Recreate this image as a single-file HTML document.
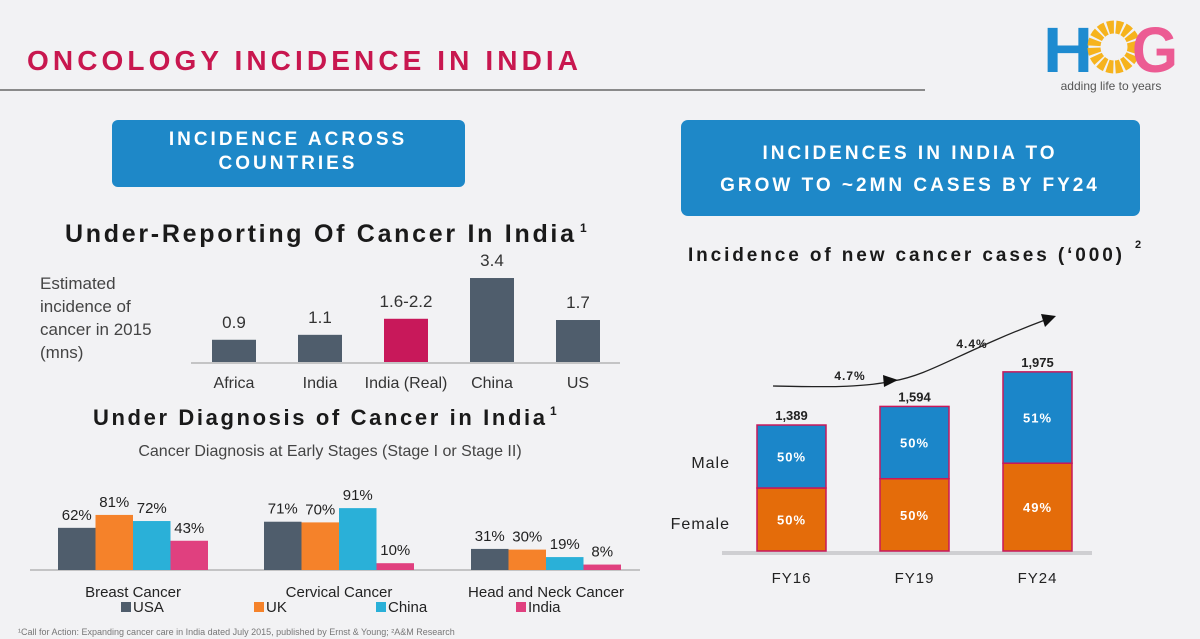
<!DOCTYPE html>
<html><head><meta charset="utf-8"><style>
body{margin:0;width:1200px;height:639px;overflow:hidden;background:#f2f2f4;font-family:"Liberation Sans",sans-serif}
svg{display:block}
text{font-family:"Liberation Sans",sans-serif}
</style></head><body>
<svg id="s" width="1200" height="639" viewBox="0 0 1200 639">
<rect x="0" y="0" width="1200" height="639" fill="#f2f2f4"/>
<text x="27" y="70" font-size="28" font-weight="bold" fill="#c8174f" letter-spacing="4" textLength="555" lengthAdjust="spacing">ONCOLOGY INCIDENCE IN INDIA</text>
<rect x="0" y="89" width="925" height="2" fill="#8a8a8a"/>
<g>
<text x="1043" y="72" font-size="64" font-weight="bold" fill="#1e8bd0" textLength="50" lengthAdjust="spacingAndGlyphs">H</text>
<circle cx="1114" cy="47" r="20" fill="none" stroke="#f6b31d" stroke-width="13" stroke-dasharray="6 2"/>
<text x="1132" y="72" font-size="64" font-weight="bold" fill="#ec5b93" textLength="46" lengthAdjust="spacingAndGlyphs">G</text>
<text x="1111" y="90" font-size="12" fill="#555" text-anchor="middle">adding life to years</text>
</g>
<g>
<rect x="112" y="120" width="353" height="67" rx="6" fill="#1e88c8"/>
<text x="288" y="145" font-size="19" font-weight="bold" fill="#fff" text-anchor="middle" letter-spacing="3">INCIDENCE ACROSS</text>
<text x="288" y="169" font-size="19" font-weight="bold" fill="#fff" text-anchor="middle" letter-spacing="3">COUNTRIES</text>
</g>
<g>
<rect x="681" y="120" width="459" height="96" rx="7" fill="#1e88c8"/>
<text x="910" y="159" font-size="19" font-weight="bold" fill="#fff" text-anchor="middle" letter-spacing="3">INCIDENCES IN INDIA TO</text>
<text x="910" y="191" font-size="19" font-weight="bold" fill="#fff" text-anchor="middle" letter-spacing="3">GROW TO ~2MN CASES BY FY24</text>
</g>
<text x="65" y="242" font-size="25" font-weight="bold" fill="#1a1a1a" letter-spacing="3" textLength="512" lengthAdjust="spacing">Under-Reporting Of Cancer In India</text>
<text x="580" y="232" font-size="12" font-weight="bold" fill="#1a1a1a">1</text>
<g font-size="17" fill="#444">
<text x="40" y="289">Estimated</text><text x="40" y="312">incidence of</text><text x="40" y="335">cancer in 2015</text><text x="40" y="358">(mns)</text>
</g>
<g id="c1"></g>
<text x="93" y="425" font-size="22" font-weight="bold" fill="#1a1a1a" letter-spacing="3" textLength="455" lengthAdjust="spacing">Under Diagnosis of Cancer in India</text>
<text x="550" y="415" font-size="12" font-weight="bold" fill="#1a1a1a">1</text>
<text x="330" y="456" font-size="16" fill="#444" text-anchor="middle">Cancer Diagnosis at Early Stages (Stage I or Stage II)</text>
<g id="c2"></g>
<text x="18" y="635" font-size="9" fill="#777">¹Call for Action: Expanding cancer care in India dated July 2015, published by Ernst &amp; Young; ²A&amp;M Research</text>
<text x="688" y="261" font-size="19" font-weight="bold" fill="#1a1a1a" letter-spacing="3" textLength="437" lengthAdjust="spacing">Incidence of new cancer cases (‘000)</text>
<text x="1135" y="248" font-size="11" font-weight="bold" fill="#1a1a1a">2</text>
<g id="c3"></g>
</svg>
<script>
const NS='http://www.w3.org/2000/svg';
function mk(p,t,a,txt){const e=document.createElementNS(NS,t);for(const k in a)e.setAttribute(k,a[k]);if(txt!==undefined)e.textContent=txt;p.appendChild(e);return e;}

// Chart 1
const c1Cats=['Africa','India','India (Real)','China','US'];
const c1Vals=[0.9,1.1,1.75,3.4,1.7];
const c1Labels=['0.9','1.1','1.6-2.2','3.4','1.7'];
// Chart 2
const c2Groups=['Breast Cancer','Cervical Cancer','Head and Neck Cancer'];
const c2Series=['USA','UK','China','India'];
const c2USA=[62,71,31];
const c2UK=[81,70,30];
const c2China=[72,91,19];
const c2India=[43,10,8];
// Chart 3
const c3Years=['FY16','FY19','FY24'];
const c3Totals=[1389,1594,1975];
const c3FemalePct=[50,50,49];
const c3MalePct=[50,50,51];
const c3Cagr=['4.7%','4.4%'];

(function(){
 const g=document.getElementById('c1');
 const base=362,step=86,bw=44,y=v=>base-v*24.7;
 mk(g,'line',{x1:191,x2:620,y1:base+1,y2:base+1,stroke:'#b5b5b5','stroke-width':1.5});
 c1Vals.forEach((v,i)=>{
  const cx=234+i*step;
  const r=mk(g,'rect',{x:cx-bw/2,y:y(v),width:bw,height:base-y(v),fill:i==2?'#c8185a':'#4f5d6c'});
  
  
  const t=mk(g,'text',{x:cx,y:y(v)-12,'font-size':17,fill:'#333','text-anchor':'middle'},c1Labels[i]);
  
  
  const l=mk(g,'text',{x:cx,y:388,'font-size':16,fill:'#333','text-anchor':'middle'},c1Cats[i]);
  
  
 });
})();

(function(){
 const g=document.getElementById('c2');
 const base=570,bw=37.5,k=0.68,cols=['#4f5d6c','#f5822a','#2ab0d8','#e0407f'];
 const starts=[58,264,471];
 const series=[c2USA,c2UK,c2China,c2India];
 mk(g,'line',{x1:30,x2:640,y1:base,y2:base,stroke:'#b5b5b5','stroke-width':1.5});
 c2Groups.forEach((grp,gi)=>{
  series.forEach((s,si)=>{
   const h=s[gi]*k,x=starts[gi]+si*bw;
   const r=mk(g,'rect',{x:x,y:base-h,width:bw,height:h,fill:cols[si]});
   
   
   const t=mk(g,'text',{x:x+bw/2,y:base-h-8,'font-size':15,fill:'#222','text-anchor':'middle'},s[gi]+'%');
   
   
  });
  const l=mk(g,'text',{x:starts[gi]+2*bw,y:597,'font-size':15,fill:'#222','text-anchor':'middle'},grp);
  
  
 });
 const lx=[121,254,376,516];
 c2Series.forEach((s,i)=>{
  const e=mk(g,'g',{});
  
  
  mk(e,'rect',{x:lx[i],y:602,width:10,height:10,fill:cols[i]});
  mk(e,'text',{x:lx[i]+12,y:612,'font-size':15,fill:'#222'},s);
 });
})();

(function(){
 const g=document.getElementById('c3');
 const base=551,k=0.0907,bw=69,xs=[757,880,1003];
 mk(g,'line',{x1:722,x2:1092,y1:base+2,y2:base+2,stroke:'#cfcfd2','stroke-width':4});
 c3Totals.forEach((tot,i)=>{
  const H=tot*k,hf=H*c3FemalePct[i]/100,x=xs[i];
  const f=mk(g,'rect',{x:x,y:base-hf,width:bw,height:hf,fill:'#e46c0a',stroke:'#c8185a','stroke-width':1.5});
  
  
  const m=mk(g,'rect',{x:x,y:base-H,width:bw,height:H-hf,fill:'#1b86c9',stroke:'#c8185a','stroke-width':1.5});
  
  
  mk(g,'text',{x:x+bw/2,y:base-hf/2+5,'font-size':13,'font-weight':'bold',fill:'#fff','text-anchor':'middle','letter-spacing':1},c3FemalePct[i]+'%');
  mk(g,'text',{x:x+bw/2,y:base-hf-(H-hf)/2+5,'font-size':13,'font-weight':'bold',fill:'#fff','text-anchor':'middle','letter-spacing':1},c3MalePct[i]+'%');
  const t=mk(g,'text',{x:x+bw/2,y:base-H-5,'font-size':13,'font-weight':'bold',fill:'#222','text-anchor':'middle'},tot.toLocaleString('en-US'));
  
  
  const l=mk(g,'text',{x:x+bw/2,y:583,'font-size':15,fill:'#222','text-anchor':'middle','letter-spacing':1},c3Years[i]);
  
  
 });
 mk(g,'text',{x:730,y:468,'font-size':16,fill:'#222','text-anchor':'end','letter-spacing':1},'Male');
 mk(g,'text',{x:730,y:529,'font-size':16,fill:'#222','text-anchor':'end','letter-spacing':1},'Female');
 const a=mk(g,'path',{d:'M773,386 C820,387 860,388 893,381 C930,375 960,352 1045,320',fill:'none',stroke:'#222','stroke-width':1.3});
 
 
 mk(g,'polygon',{points:'883,375 898,380 884,387',fill:'#111'});
 mk(g,'polygon',{points:'1041,314 1056,316 1045,327',fill:'#111'});
 mk(g,'text',{x:850,y:380,'font-size':12,'font-weight':'bold',fill:'#222','text-anchor':'middle','letter-spacing':1},c3Cagr[0]);
 mk(g,'text',{x:972,y:348,'font-size':12,'font-weight':'bold',fill:'#222','text-anchor':'middle','letter-spacing':1},c3Cagr[1]);
})();
</script>
</body></html>
